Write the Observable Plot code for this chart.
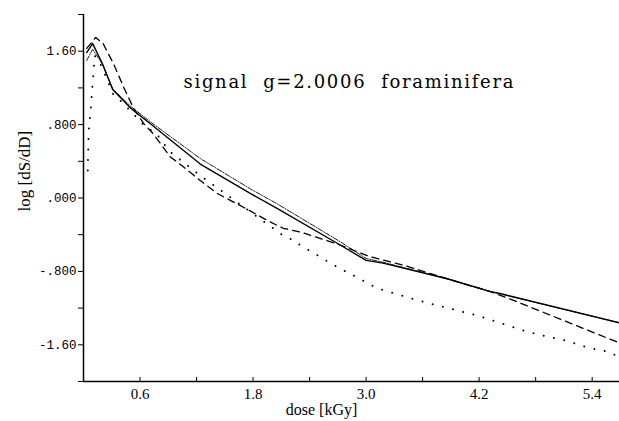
<!DOCTYPE html>
<html><head><meta charset="utf-8">
<script src="https://cdn.jsdelivr.net/npm/d3@7"></script>
<script src="https://cdn.jsdelivr.net/npm/@observablehq/plot@0.6"></script>
<style>body{margin:0;background:#fff}</style>
</head><body><div id="chart"></div>
<script>
// ---- data ----
const solidX = [0.034,0.097,0.20,0.31,0.50,0.71,1.24,1.77,2.05,2.73,3.0,3.18,3.86,4.32,4.42,5.69];
const solidY = [1.585,1.683,1.466,1.183,0.98,0.81,0.37,0.05,-0.11,-0.515,-0.68,-0.71,-0.88,-1.02,-1.04,-1.36];
const dashdotX = [0.034,0.097,0.20,0.31,0.50,0.71,1.24,1.77,2.05,2.73,3.0,3.18,3.86,4.32,5.69];
const dashdotY = [1.50,1.62,1.46,1.19,1.0,0.83,0.43,0.10,-0.06,-0.48,-0.66,-0.70,-0.88,-1.02,-1.36];
const dashedX = [0.034,0.13,0.21,0.32,0.43,0.53,0.64,0.74,0.92,1.06,1.24,1.42,1.77,1.95,2.12,2.30,2.48,2.73,3.04,3.39,3.86,4.32,4.60,5.69];
const dashedY = [1.63,1.75,1.68,1.46,1.20,0.98,0.81,0.70,0.45,0.34,0.19,0.05,-0.14,-0.245,-0.33,-0.37,-0.43,-0.515,-0.64,-0.73,-0.88,-1.02,-1.13,-1.58];
const dottedX = [0.045,0.055,0.076,0.094,0.12,0.19,0.32,0.41,0.57,0.66,0.765,0.85,0.94,1.24,1.77,2.12,2.23,2.32,2.43,2.62,3.11,3.36,3.68,3.91,4.21,4.45,4.69,4.92,5.14,5.35,5.59,5.69];
const dottedY = [0.30,0.735,0.95,1.21,1.55,1.44,1.118,1.045,0.87,0.77,0.715,0.595,0.486,0.245,-0.15,-0.41,-0.46,-0.53,-0.59,-0.71,-0.98,-1.06,-1.15,-1.21,-1.29,-1.37,-1.45,-1.51,-1.56,-1.63,-1.68,-1.74];

const xTicks = [0.6,1.2,1.8,2.4,3.0,3.6,4.2,4.8,5.4];
const xMajor = [0.6,1.8,3.0,4.2,5.4];
const xLabels = ["0.6","1.8","3.0","4.2","5.4"];
const yTicks = [-2,-1.6,-1.2,-0.8,-0.4,0,0.4,0.8,1.2,1.6,2];
const yMajor = [-1.6,-0.8,0,0.8,1.6];
const yLabels = ["-1.60","-.800",".000",".800","1.60"];

const titleText = "signal  g=2.0006  foraminifera";
const xTitle = "dose [kGy]";
const yTitle = "log [dS/dD]";

const rows = (xs, ys) => xs.map((x, i) => ({x, y: ys[i]}));
const fmt = (majors, labels) => d => {
  const i = majors.findIndex(v => Math.abs(v - d) < 1e-9);
  return i >= 0 ? labels[i] : "";
};

const chart = Plot.plot({
  width: 619, height: 421,
  marginLeft: 83, marginRight: 0, marginTop: 14, marginBottom: 40,
  x: {domain: [0, 5.69]},
  y: {domain: [-2, 2]},
  style: {background: "white", color: "black"},
  marks: [
    Plot.axisY(yTicks, {tickSize: 5, tickPadding: 2, tickFormat: fmt(yMajor, yLabels),
      fontFamily: "Liberation Mono", fontSize: 12.5, label: null}),
    Plot.axisX(xTicks, {tickSize: -4, tickPadding: 11, tickFormat: fmt(xMajor, xLabels),
      fontFamily: "Liberation Serif", fontSize: 15, label: null}),
    Plot.ruleX([0], {strokeWidth: 1.5}),
    Plot.ruleY([-2], {strokeWidth: 1.5}),
    Plot.line(rows(solidX, solidY), {x: "x", y: "y", stroke: "black", strokeWidth: 1.4}),
    Plot.line(rows(dashdotX, dashdotY), {x: "x", y: "y", stroke: "black", strokeWidth: 0.9, strokeDasharray: "5,1.5,1,1.5"}),
    Plot.line(rows(dashedX, dashedY), {x: "x", y: "y", stroke: "black", strokeWidth: 1.3, strokeDasharray: "7,5"}),
    Plot.line(rows(dottedX, dottedY), {x: "x", y: "y", stroke: "black", strokeWidth: 2, strokeDasharray: "0,10.5", strokeLinecap: "round"}),
    Plot.text([titleText], {frameAnchor: "top-left", dx: 100, dy: 61, text: d => d,
      textAnchor: "start", fontFamily: "DejaVu Serif", fontSize: 18, fill: "black"}),
    Plot.text([xTitle], {frameAnchor: "bottom", dx: -30, dy: 33, text: d => d,
      fontFamily: "Liberation Serif", fontSize: 16, fill: "black"}),
    Plot.text([yTitle], {frameAnchor: "left", dx: -59, dy: 13.5, rotate: -90, text: d => d,
      fontFamily: "Liberation Serif", fontSize: 17, fill: "black"})
  ]
});
chart.querySelectorAll("text").forEach(t => {
  t.setAttribute("xml:space", "preserve");
  if (t.textContent === titleText) {
    t.setAttribute("textLength", "330");
    t.setAttribute("lengthAdjust", "spacing");
  }
});
chart.style.whiteSpace = "pre";
document.getElementById("chart").appendChild(chart);
</script>
</body></html>
